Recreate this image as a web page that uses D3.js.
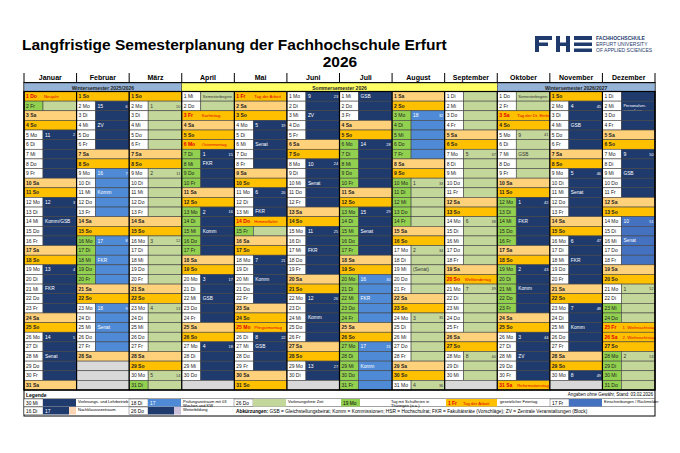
<!DOCTYPE html>
<html><head><meta charset="utf-8">
<script src="https://cdn.jsdelivr.net/npm/d3@7"></script>
<style>body{margin:0;background:#fff}text{font-family:"Liberation Sans",Arial,sans-serif}</style>
</head><body><svg id="c" width="680" height="453"></svg>
<script>
const YEAR = 2026;
const months = ["Januar","Februar","März","April","Mai","Juni","Juli","August","September","Oktober","November","Dezember"];
const weekdays = ["So","Mo","Di","Mi","Do","Fr","Sa"];
const semesters = [["2026-01-01","2026-03-31","Wintersemester 2025/2026","#95b3d7"],["2026-04-01","2026-09-30","Sommersemester 2026","#ffff66"],["2026-10-01","2026-12-31","Wintersemester 2026/2027","#95b3d7"]];
const periods = [
 ["2026-01-05","2026-02-06","lecture"],["2026-02-09","2026-02-27","exam"],
 ["2026-04-07","2026-07-17","lecture"],["2026-05-15","2026-05-15","free"],
 ["2026-07-20","2026-08-07","exam"],["2026-10-12","2026-12-11","lecture"],
 ["2026-12-14","2026-12-18","enrol"]];
const schoolHolidays = [["2026-01-02","2026-01-02"],["2026-02-16","2026-02-20"],["2026-03-31","2026-03-31"],["2026-04-07","2026-04-17"],["2026-05-15","2026-05-15"],["2026-07-06","2026-08-14"],["2026-10-12","2026-10-23"],["2026-12-23","2026-12-31"]];
const holidays = {"2026-01-01":"Neujahr","2026-04-03":"Karfreitag","2026-04-06":"Ostermontag","2026-05-01":"Tag der Arbeit","2026-05-14":"Himmelfahrt","2026-05-25":"Pfingstmontag","2026-09-20":"Weltkindertag","2026-10-03":"Tag der Dt. Einheit","2026-10-31":"Reformationstag","2026-12-25":"1. Weihnachtstag","2026-12-26":"2. Weihnachtstag"};
const notes = {"2026-01-14":"Komm/GSB","2026-01-21":"FKR","2026-01-28":"Senat","2026-02-04":"ZV","2026-02-11":"Komm","2026-02-18":"FKR","2026-02-25":"Senat",
"2026-04-01":"Semesterbeginn","2026-04-08":"FKR","2026-04-15":"Komm","2026-04-22":"GSB","2026-05-06":"Senat","2026-05-13":"FKR","2026-05-20":"Komm","2026-05-27":"GSB",
"2026-06-03":"ZV","2026-06-10":"Senat","2026-06-17":"FKR","2026-06-24":"Komm","2026-07-01":"GSB","2026-07-15":"Senat","2026-07-22":"FKR","2026-07-29":"Komm","2026-08-19":"(Senat)",
"2026-10-01":"Semesterbeginn","2026-10-07":"GSB","2026-10-14":"FKR","2026-10-21":"Komm","2026-10-28":"ZV","2026-11-04":"GSB","2026-11-11":"Senat","2026-11-18":"FKR","2026-11-25":"Komm",
"2026-12-02":"Personalver-\nsammlung","2026-12-09":"GSB","2026-12-16":"Senat"};
const semWeeks = {"2026-01-05":11,"2026-01-12":12,"2026-01-19":13,"2026-01-26":14,"2026-02-02":15,"2026-02-09":16,"2026-02-16":17,"2026-02-23":18,"2026-03-02":1,"2026-03-09":2,"2026-03-16":3,"2026-03-23":4,"2026-03-30":5,
"2026-04-07":1,"2026-04-13":2,"2026-04-20":3,"2026-04-27":4,"2026-05-04":5,"2026-05-11":6,"2026-05-18":7,"2026-05-26":8,"2026-06-01":9,"2026-06-08":10,"2026-06-15":11,"2026-06-22":12,"2026-06-29":13,"2026-07-06":14,"2026-07-13":15,"2026-07-20":16,"2026-07-27":17,"2026-08-03":18,
"2026-08-10":1,"2026-08-17":2,"2026-08-24":3,"2026-08-31":4,"2026-09-07":5,"2026-09-14":6,"2026-09-21":7,"2026-09-28":8,"2026-10-05":9,"2026-10-12":1,"2026-10-19":2,"2026-10-26":3,"2026-11-02":4,"2026-11-09":5,"2026-11-16":6,"2026-11-23":7,"2026-11-30":8,"2026-12-07":9,"2026-12-14":10,"2026-12-21":1,"2026-12-28":2};
const colors = {lecture:"#1f3b6e",exam:"#4f8ad6",enrol:"#4471c0",free:"#c4d79b",sat:"#ffd17a",sun:"#ffc000",school:"#92d050",empty:"#d9d9d9"};

const svg = d3.select("#c");
const fmt = d3.timeFormat("%Y-%m-%d"), kw = d3.timeFormat("%V");
const x = d3.scaleBand().domain(d3.range(12)).range([24,655]);
const y = d3.scaleBand().domain(d3.range(1,32)).range([91.5,390]);
const LW = 19;
const inR = (s, r) => s >= r[0] && s <= r[1];

svg.append("text").attr("x",22).attr("y",50).attr("font-size",15.5).attr("font-weight","bold").text("Langfristige Semesterplanung der Fachhochschule Erfurt");
svg.append("text").attr("x",340).attr("y",67).attr("text-anchor","middle").attr("font-size",15.5).attr("font-weight","bold").text(String(YEAR));
const lg = svg.append("g").attr("fill","#1f3b6e");
[[535,36,17,4],[535,42.5,13,3.5],[535,36,4,16],[556,36,4,16],[566,36,4,16],[556,42.5,14,3.5],[574,36,18,4],[574,42.5,18,3.5],[574,48.5,18,3.5]].forEach(r=>lg.append("rect").attr("x",r[0]).attr("y",r[1]).attr("width",r[2]).attr("height",r[3]));
[["FACHHOCHSCHULE",40],["ERFURT UNIVERSITY",46],["OF APPLIED SCIENCES",52]].forEach((t,i)=>svg.append("text").attr("x",596).attr("y",t[1]).attr("font-size",5).attr("font-weight",i==0?"bold":"normal").attr("fill","#1f3b6e").text(t[0]));

months.forEach((m,i)=>{
  svg.append("text").attr("x",x(i)+x.bandwidth()/2).attr("y",80).attr("text-anchor","middle").attr("font-size",7).attr("font-weight","bold").text(m);
});
d3.range(13).forEach(i=>svg.append("line").attr("x1",i<12?x(i):655).attr("x2",i<12?x(i):655).attr("y1",73).attr("y2",83).attr("stroke","#000"));
svg.append("rect").attr("x",24).attr("y",82.5).attr("width",631).attr("height",9).attr("fill","none").attr("stroke","#000");
semesters.forEach(s=>{
  const a=new Date(s[0]).getMonth(), b=new Date(s[1]).getMonth();
  const x0=x(a), x1=x(b)+x.bandwidth();
  svg.append("rect").attr("x",x0).attr("y",83).attr("width",x1-x0).attr("height",8.5).attr("fill",s[3]).attr("stroke","#333").attr("stroke-width",0.5);
  svg.append("text").attr("x",(x0+x1)/2).attr("y",89.5).attr("text-anchor","middle").attr("font-size",5).attr("font-weight","bold").attr("fill","#222").text(s[2]);
});

const g = svg.append("g");
months.forEach((m,mi)=>{
  d3.range(1,32).forEach(d=>{
    const dt=new Date(YEAR,mi,d), x0=x(mi), y0=y(d), w=x.bandwidth(), h=y.bandwidth();
    if(dt.getMonth()!==mi){ g.append("rect").attr("x",x0).attr("y",y0).attr("width",w).attr("height",h).attr("fill",colors.empty).attr("stroke","#444").attr("stroke-width",0.6); return; }
    const s=fmt(dt), wd=dt.getDay(), hol=holidays[s];
    let per="free"; periods.forEach(p=>{ if(inR(s,p)) per=p[2]; });
    const school=schoolHolidays.some(r=>inR(s,r));
    const whole = hol||wd===0 ? colors.sun : wd===6 ? colors.sat : null;
    if(whole){
      g.append("rect").attr("x",x0).attr("y",y0).attr("width",w).attr("height",h).attr("fill",whole).attr("stroke","#444").attr("stroke-width",0.6);
    } else {
      g.append("rect").attr("x",x0).attr("y",y0).attr("width",LW).attr("height",h).attr("fill",school?colors.school:"#fff").attr("stroke","#444").attr("stroke-width",0.6);
      g.append("rect").attr("x",x0+LW).attr("y",y0).attr("width",w-LW).attr("height",h).attr("fill",colors[per]).attr("stroke","#444").attr("stroke-width",0.6);
    }
    g.append("text").attr("x",x0+2).attr("y",y0+h/2+1.8).attr("font-size",5).attr("font-weight",whole?"bold":"normal").attr("fill",hol?"#e00000":"#222").text(d+"  "+weekdays[wd]);
    const light = !whole && per!=="free";
    if(semWeeks[s]!==undefined){
      g.append("text").attr("x",x0+LW+2).attr("y",y0+h/2+1.8).attr("font-size",5).attr("fill",light?"#fff":"#333").text(semWeeks[s]);
      g.append("text").attr("x",x0+w-1.5).attr("y",y0+h/2+1.6).attr("text-anchor","end").attr("font-size",3.8).attr("fill",light?"#fff":"#333").text(+kw(dt));
    }
    const note = hol||notes[s];
    if(note){
      const lines=note.split("\n");
      const fs = hol?4.3:(note.length>10?4:4.8);
      lines.forEach((t,i)=>g.append("text").attr("x",x0+LW+(hol?1:2)).attr("y",y0+h/2+1.6+(i-(lines.length-1)/2)*4.5+(lines.length>1?2:0)).attr("font-size",fs).attr("fill",hol?"#e00000":light?"#fff":"#333").text(t));
    }
  });
});
d3.range(13).forEach(i=>svg.append("line").attr("x1",i<12?x(i):655).attr("x2",i<12?x(i):655).attr("y1",91.5).attr("y2",390).attr("stroke","#000").attr("stroke-width",1.2));
svg.append("rect").attr("x",24).attr("y",91.5).attr("width",631).attr("height",298.5).attr("fill","none").attr("stroke","#000").attr("stroke-width",1.2);

const L=svg.append("g");
L.append("rect").attr("x",24).attr("y",390).attr("width",631).attr("height",26).attr("fill","none").attr("stroke","#000");
L.append("text").attr("x",26).attr("y",397).attr("font-size",5).attr("font-weight","bold").text("Legende");
L.append("text").attr("x",653).attr("y",396).attr("text-anchor","end").attr("font-size",4.5).text("Angaben ohne Gewähr, Stand: 03.02.2026");
L.append("line").attr("x1",24).attr("x2",655).attr("y1",398.5).attr("y2",398.5).attr("stroke","#444").attr("stroke-width",0.5);
L.append("line").attr("x1",24).attr("x2",655).attr("y1",406.5).attr("y2",406.5).attr("stroke","#444").attr("stroke-width",0.5);
const legendItems=[
 [26,399,"30 Mi",colors.lecture,"",null,"Vorlesungs- und Lehrbetrieb"],
 [131,399,"18 Di",colors.exam,"17",null,"Prüfungszeitraum mit 03\nWochen und KW"],
 [236,399,"26 Do",colors.free,"",null,"Vorlesungsfreie Zeit"],
 [552,399,"17 Fr",colors.enrol,"",null,"Einschreibungen / Rückmelder"],
 [26,407,"16 Di",colors.lecture,"17","#fcd5b4","Nachklausurzeitraum"],
 [131,407,"26 Do",colors.lecture,"","#ccc0da","Weiterbildung"]];
legendItems.forEach(it=>{
  L.append("rect").attr("x",it[0]-2).attr("y",it[1]).attr("width",19).attr("height",7.5).attr("fill","#fff").attr("stroke","#444").attr("stroke-width",0.4);
  L.append("text").attr("x",it[0]).attr("y",it[1]+5.5).attr("font-size",4.8).text(it[2]);
  const bw=it[5]?26:33;
  L.append("rect").attr("x",it[0]+17).attr("y",it[1]).attr("width",bw).attr("height",7.5).attr("fill",it[3]);
  if(it[5]) L.append("rect").attr("x",it[0]+17+bw).attr("y",it[1]).attr("width",7).attr("height",7.5).attr("fill",it[5]);
  if(it[4]) L.append("text").attr("x",it[0]+19).attr("y",it[1]+5.5).attr("font-size",4.8).attr("fill","#fff").text(it[4]);
  it[6].split("\n").forEach((t,i)=>L.append("text").attr("x",it[0]+52).attr("y",it[1]+3.5+i*4).attr("font-size",4).text(t));
});
L.append("rect").attr("x",341).attr("y",399).attr("width",19).attr("height",7.5).attr("fill",colors.school);
L.append("text").attr("x",343).attr("y",404.5).attr("font-size",4.8).text("19 Mo");
["Tag mit Schulferien in","Thüringen (o.a.)"].forEach((t,i)=>L.append("text").attr("x",391).attr("y",402.5+i*4).attr("font-size",4).text(t));
L.append("rect").attr("x",446).attr("y",399).attr("width",51).attr("height",7.5).attr("fill",colors.sun);
L.append("text").attr("x",448).attr("y",404.5).attr("font-size",4.8).attr("font-weight","bold").attr("fill","#e00000").text("1  Fr");
L.append("text").attr("x",463).attr("y",404.5).attr("font-size",4.3).attr("fill","#e00000").text("Tag der Arbeit");
L.append("text").attr("x",500).attr("y",402.5).attr("font-size",4).text("gesetzlicher Feiertag");
const ab=L.append("text").attr("x",236).attr("y",412.5).attr("font-size",4.8);
ab.append("tspan").attr("font-weight","bold").text("Abkürzungen: ");
ab.append("tspan").text("GSB = Gleichstellungsbeirat; Komm = Kommissionen; HSR = Hochschulrat; FKR = Fakultätsräte (Vorschläge); ZV = Zentrale Veranstaltungen (Block)");
</script></body></html>
